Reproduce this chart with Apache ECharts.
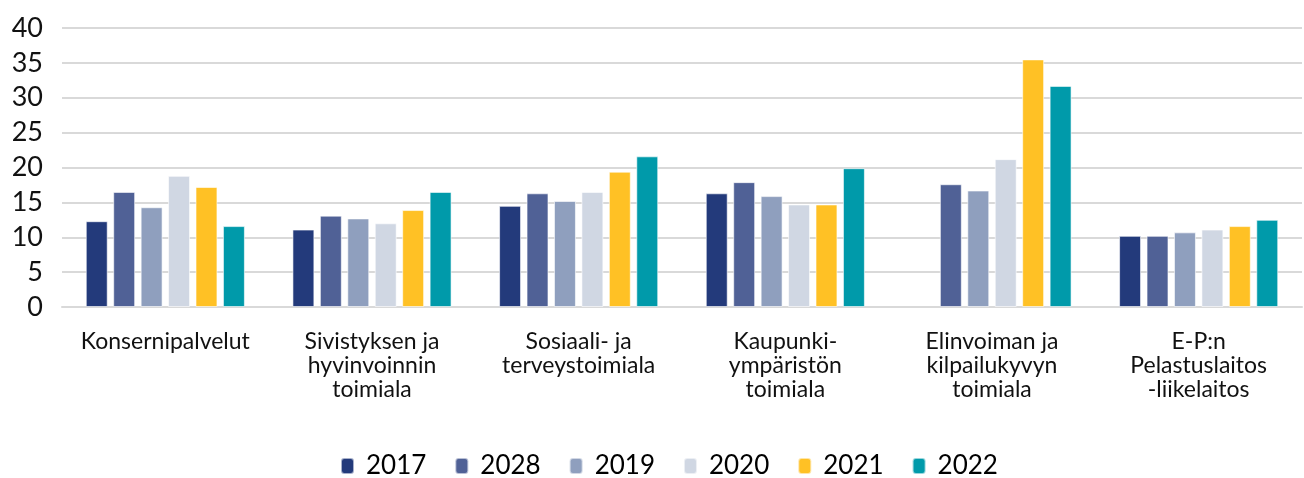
<html>
<head>
    <meta charset="UTF-8">
    <title>Toimialat</title>
    <script src="https://cdn.jsdelivr.net/npm/echarts@6/dist/echarts.min.js"></script>
</head>
<body style="margin:0">
    <div id="container" style="width: 1304px;height:478px;"></div>
<script>
    var categories = ['Konsernipalvelut', 'Sivistyksen ja\nhyvinvoinnin\ntoimiala', 'Sosiaali- ja\nterveystoimiala',
        'Kaupunki-\nympäristön\ntoimiala', 'Elinvoiman ja\nkilpailukyvyn\ntoimiala', 'E-P:n\nPelastuslaitos\n-liikelaitos'];
    var years = ['2017', '2028', '2019', '2020', '2021', '2022'];
    var colors = ['#233a7b', '#506196', '#8f9fbe', '#d0d7e3', '#ffc125', '#009aaa'];
    var v2017 = [12.3, 11.1, 14.5, 16.3, null, 10.2];
    var v2028 = [16.5, 13.1, 16.3, 17.9, 17.6, 10.2];
    var v2019 = [14.3, 12.7, 15.2, 15.9, 16.7, 10.7];
    var v2020 = [18.8, 12.0, 16.5, 14.7, 21.2, 11.1];
    var v2021 = [17.2, 13.9, 19.4, 14.7, 35.5, 11.6];
    var v2022 = [11.6, 16.5, 21.6, 19.9, 31.7, 12.5];
    var values = [v2017, v2028, v2019, v2020, v2021, v2022];

    var mycharts = echarts.init(document.getElementById('container'));
    var series = [];
    for (var i = 0; i < years.length; i++) {
        series.push({
            name: years[i],
            type: 'bar',
            data: values[i],
            barGap: '25%',
            barCategoryGap: '23%',
            itemStyle: { color: colors[i], borderColor: 'rgba(255,255,255,0.6)', borderWidth: 1 }
        });
    }
    var option = {
        animation: false,
        color: colors,
        grid: { left: 62, right: 2, top: 28, bottom: 171, containLabel: false },
        legend: {
            data: years,
            top: 452,
            left: 340,
            padding: 0,
            itemWidth: 13,
            itemHeight: 16,
            itemGap: 28,
            textStyle: { fontFamily: 'Lato', fontSize: 26, lineHeight: 28, color: '#000', padding: [0, 0, 0, 7] }
        },
        xAxis: {
            type: 'category',
            data: categories,
            axisTick: { show: false },
            axisLine: { lineStyle: { color: '#d9d9d9', width: 2 } },
            axisLabel: { interval: 0, margin: 23, lineHeight: 24, fontFamily: 'Lato', fontSize: 23, color: '#111' }
        },
        yAxis: {
            type: 'value',
            min: 0,
            max: 40,
            interval: 5,
            axisLine: { show: false },
            axisTick: { show: false },
            splitLine: { lineStyle: { color: '#d9d9d9', width: 2 } },
            axisLabel: { margin: 19, fontFamily: 'Lato', fontSize: 27, color: '#111' }
        },
        series: series
    };
    mycharts.setOption(option);
</script>
</body>
</html>
